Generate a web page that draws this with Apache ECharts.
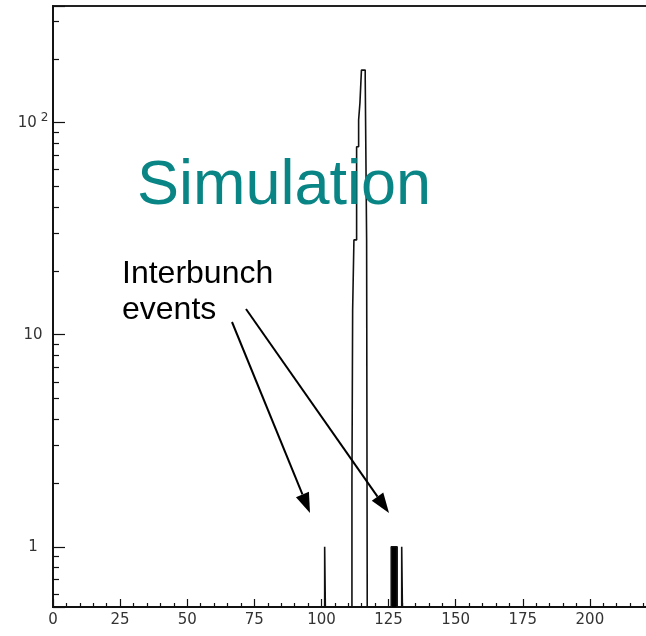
<!DOCTYPE html>
<html>
<head>
<meta charset="utf-8">
<script src="https://cdn.jsdelivr.net/npm/echarts@6/dist/echarts.min.js"></script>
<style>
html,body{margin:0;padding:0;background:#fff;}
#chart{width:646px;height:636px;}
</style>
</head>
<body>
<div id="chart"></div>
<script>
// main bunch peak (bin edges, counts per bin)
var peakEdges = [111.36, 111.62, 112.1, 113.1, 113.85, 114.34, 114.9, 116.31, 116.83, 117.06];
var peakCounts = [2, 13, 28, 77, 103, 124, 177, 160, 28];

// interbunch events
var ib1Edges = [101.2, 101.45];
var ib1Counts = [1];
var ib2Edges = [126.0, 128.2];
var ib2Counts = [1];
var ib3Edges = [129.9, 130.15];
var ib3Counts = [1];

var xLabelValues = [0, 25, 50, 75, 100, 125, 150, 175, 200];
var yLabelText = {'1': '1', '10': '10', '100': '10{s|2}'};

var Y_MIN = 0.52, Y_MAX = 355;

// histogram outline as step points
function outline(edges, counts){
	var pts = [[edges[0], Y_MIN]];
	for(var i=0;i<counts.length;i++){
		pts.push([edges[i], counts[i]]);
		pts.push([edges[i+1], counts[i]]);
	}
	pts.push([edges[edges.length-1], Y_MIN]);
	return pts;
}

function histSeries(edges, counts, filled){
	var s = {
		type:'line',
		data:outline(edges, counts),
		symbol:'none',
		lineStyle:{color:'#111', width:1.6},
		animation:false,
		z:3
	};
	if(filled){
		s.areaStyle = {color:'#000', opacity:1};
	}
	return s;
}

function arrow(x1, y1, x2, y2){
	var dx=x2-x1, dy=y2-y1, L=Math.sqrt(dx*dx+dy*dy);
	var ux=dx/L, uy=dy/L;
	var hl=20, hw=7;
	var bx=x2-ux*hl, by=y2-uy*hl;
	return [
		{type:'line', z:10, shape:{x1:x1, y1:y1, x2:bx, y2:by}, style:{stroke:'#000', lineWidth:2}},
		{type:'polygon', z:10, shape:{points:[[x2,y2],[bx-uy*hw, by+ux*hw],[bx+uy*hw, by-ux*hw]]}, style:{fill:'#000'}}
	];
}

var eChart = echarts.init(document.getElementById('chart'));

var graphics = [
	{
		type:'text', z:10,
		x:137, y:187,
		style:{text:'Simulation', font:'63px "Liberation Sans"', fill:'#0a8585', verticalAlign:'middle', align:'left'}
	},
	{
		type:'text', z:10,
		x:122, y:256,
		style:{text:'Interbunch\nevents', font:'32px "Liberation Sans"', lineHeight:36, fill:'#000', verticalAlign:'top', align:'left'}
	}
].concat(arrow(232, 322, 310, 513)).concat(arrow(246, 309, 389, 513));

var option = {
	animation:false,
	grid:{
		left:53, right:-11, top:6, bottom:29,
		outerBoundsMode:'none', containLabel:false,
		show:true, borderColor:'#222', borderWidth:1.8, backgroundColor:'transparent'
	},
	xAxis:{
		type:'value', min:0, max:225, interval:25,
		axisLine:{lineStyle:{color:'#111', width:1.8}},
		axisTick:{inside:true, length:8, lineStyle:{color:'#111', width:1.2}},
		minorTick:{show:true, splitNumber:5, length:4, lineStyle:{color:'#111', width:1.2}},
		splitLine:{show:false},
		axisLabel:{
			margin:6, color:'#333', fontFamily:'DejaVu Sans', fontSize:15,
			formatter:function(v){ return xLabelValues.indexOf(v) >= 0 ? String(v) : ''; }
		}
	},
	yAxis:{
		type:'log', logBase:10, min:Y_MIN, max:Y_MAX,
		axisLine:{show:true, lineStyle:{color:'#111', width:1.8}},
		axisTick:{show:true, inside:true, length:12, lineStyle:{color:'#111', width:1.2}},
		minorTick:{show:true, splitNumber:9, length:6, lineStyle:{color:'#111', width:1.2}},
		splitLine:{show:false},
		minorSplitLine:{show:false},
		axisLabel:{
			margin:20, align:'center', color:'#333', fontFamily:'DejaVu Sans', fontSize:15,
			formatter:function(v){
				var l = Math.log(v)/Math.LN10, r = Math.round(l);
				if(Math.abs(l-r) > 1e-6) return '';
				var t = yLabelText[String(Math.pow(10, r))];
				return t ? t : '';
			},
			rich:{s:{fontSize:12, fontFamily:'DejaVu Sans', color:'#333', padding:[0,0,10,4]}}
		}
	},
	series:[
		histSeries(peakEdges, peakCounts, false),
		histSeries(ib1Edges, ib1Counts, false),
		histSeries(ib2Edges, ib2Counts, true),
		histSeries(ib3Edges, ib3Counts, false)
	],
	graphic:graphics
};
eChart.setOption(option);
</script>
</body>
</html>
